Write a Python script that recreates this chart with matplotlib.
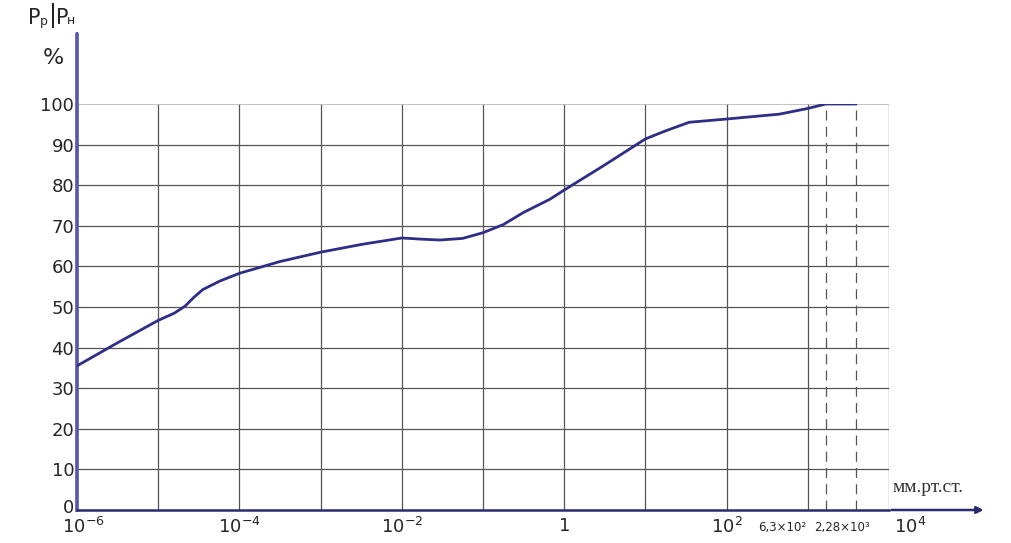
"""
Relative pressure P_p/P_n vs pressure (mm Hg), log scale.
"""

import matplotlib.pyplot as plt
import matplotlib.transforms as mtransforms
import numpy as np

# Data
# ------------------------------------------------------------------------------

log_p = [-6.0, -5.5, -5.0, -4.8, -4.67, -4.56, -4.45, -4.24, -4.0, -3.5,
         -3.0, -2.5, -2.0, -1.75, -1.53, -1.25, -1.0, -0.75, -0.5, -0.18,
         0.0, 0.5, 1.0, 1.25, 1.54, 2.0, 2.65, 3.0, 3.22, 3.59]
ratio = [35.5, 41.2, 46.7, 48.5, 50.2, 52.4, 54.3, 56.4, 58.3, 61.2,
         63.5, 65.4, 67.0, 66.7, 66.5, 66.9, 68.3, 70.3, 73.3, 76.5,
         78.8, 85.0, 91.4, 93.4, 95.5, 96.3, 97.5, 98.9, 100.0, 100.0]

decades = [1e-6, 1e-5, 1e-4, 1e-3, 1e-2, 1e-1, 1, 1e1, 1e2, 1e3, 1e4]
xlabels_at = [1e-6, 1e-4, 1e-2, 1, 1e2]
xlabels = ['$10^{-6}$', '$10^{-4}$', '$10^{-2}$', '1', '$10^{2}$']
dashed_at = [1.66e3, 3.9e3]          # drawn positions of 6,3e2 and 2,28e3
extra_labels = ['6,3×10²', '2,28×10³']
yticks = list(range(0, 101, 10))

# Plot
# ------------------------------------------------------------------------------

text_c = '#262626'
fig = plt.figure(figsize=(10.11, 5.43), dpi=100)
ax = fig.add_axes([77 / 1011, 33 / 543, 812 / 1011, 406 / 543])
ax.set_xscale('log')
ax.set_xlim(1e-6, 1e4)
ax.set_ylim(0, 100)

grid_c = '#555555'
for d in decades[1:]:
    ax.axvline(d, color=grid_c, lw=0.9, zorder=1)
for v in yticks[1:]:
    c = '#b8b8b8' if v == 100 else grid_c
    ax.axhline(v, color=c, lw=1.2 if v == 100 else 0.9, zorder=1)
for d in dashed_at:
    ax.axvline(d, color=grid_c, lw=0.9, ls=(0, (8, 5)), zorder=1)

ax.plot(10 ** np.array(log_p), ratio, color='#2e2e86', lw=2.0, zorder=3)

for s in ['top', 'right']:
    ax.spines[s].set_visible(False)
ax.spines['left'].set_color('#5656aa')
ax.spines['left'].set_linewidth(2.6)
ax.spines['bottom'].set_color('#2a2a6e')
ax.spines['bottom'].set_linewidth(1.8)

# extended axes with arrows
ax.annotate('', xy=(1.12, 0), xytext=(1.0, 0), xycoords='axes fraction',
            arrowprops=dict(arrowstyle='-|>', color='#2a2a6e', lw=1.8,
                            mutation_scale=10))
ax.annotate('', xy=(0, 1.18), xytext=(0, 1.0), xycoords='axes fraction',
            arrowprops=dict(arrowstyle='-', color='#5656aa', lw=2.6))

ax.set_yticks(yticks)
ax.set_yticklabels([str(v) for v in yticks], fontsize=13, color=text_c)
ax.set_xticks(xlabels_at)
ax.set_xticklabels(xlabels, fontsize=13, color=text_c)
ax.xaxis.set_minor_locator(plt.NullLocator())
ax.tick_params(axis='y', length=0, pad=2)
ax.tick_params(axis='x', length=0, pad=5)

# nudge the two corner labels apart
lab0 = ax.get_yticklabels()[0]
lab0.set_transform(lab0.get_transform() +
                   mtransforms.ScaledTranslation(0, 4 / 100, fig.dpi_scale_trans))
labx = ax.get_xticklabels()[0]
labx.set_transform(labx.get_transform() +
                   mtransforms.ScaledTranslation(6 / 100, 0, fig.dpi_scale_trans))

# extra x labels
ax.text(9.6e2, -2.8, extra_labels[0], fontsize=8.5, ha='right', va='top', color=text_c)
ax.text(1.2e3, -2.8, extra_labels[1], fontsize=8.5, ha='left', va='top', color=text_c)
ax.text(1.8e4, -1.8, '$10^{4}$', fontsize=13, ha='center', va='top',
        color=text_c, clip_on=False)
ax.text(1.005, 0.055, 'мм.рт.ст.', transform=ax.transAxes, fontsize=14,
        family='Liberation Serif', ha='left', va='center', color='#333333')

# y axis label
fig.text(28 / 1011, 1 - 18 / 543, 'P', fontsize=15, ha='left', va='center', color=text_c)
fig.text(40 / 1011, 1 - 21 / 543, 'р', fontsize=9, ha='left', va='center', color=text_c)
fig.text(49 / 1011, 1 - 16 / 543, '|', fontsize=17, ha='left', va='center', color=text_c)
fig.text(56 / 1011, 1 - 18 / 543, 'P', fontsize=15, ha='left', va='center', color=text_c)
fig.text(67 / 1011, 1 - 21 / 543, 'н', fontsize=9, ha='left', va='center', color=text_c)
fig.text(43 / 1011, 1 - 58 / 543, '%', fontsize=16, ha='left', va='center', color=text_c)

fig.savefig('out.png', dpi=100)
